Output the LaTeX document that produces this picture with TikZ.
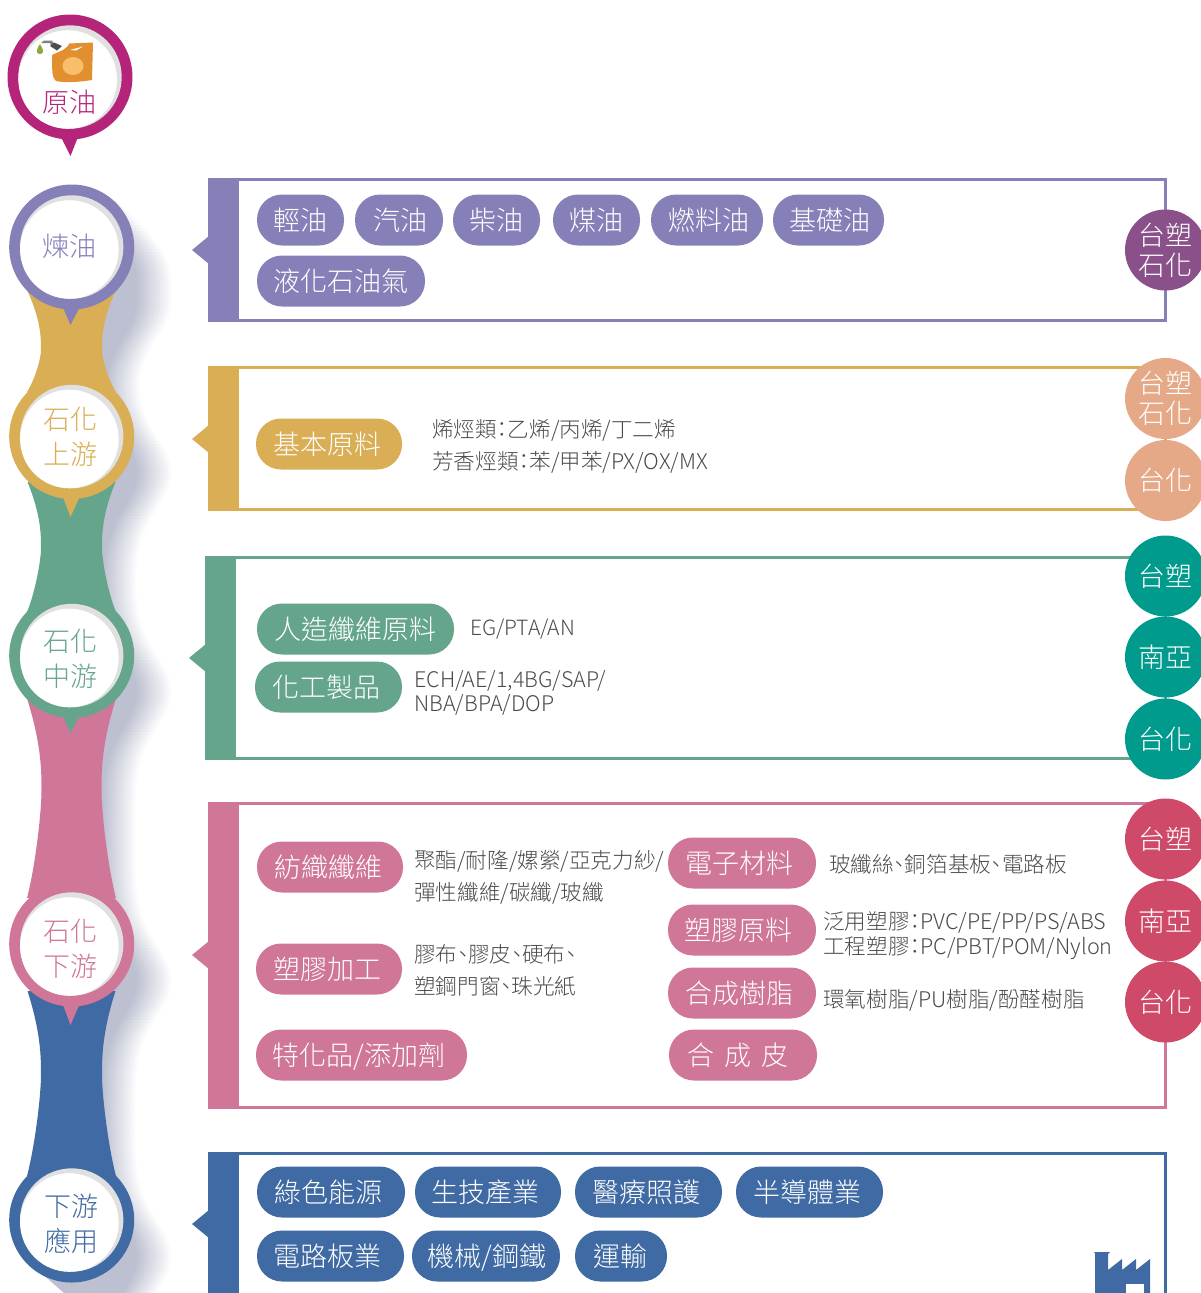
\documentclass[tikz,border=0pt]{standalone}
\usepackage{fontspec}
\setmainfont[RawFeature=+palt]{Noto Sans CJK TC Light}
\definecolor{crude}{HTML}{B4257A}
\definecolor{refine}{HTML}{8581B8}
\definecolor{upper}{HTML}{D9AE55}
\definecolor{middle}{HTML}{65A58C}
\definecolor{lower}{HTML}{CF7699}
\definecolor{appl}{HTML}{3F6AA3}
\definecolor{plum}{HTML}{8A5089}
\definecolor{peach}{HTML}{E5A987}
\definecolor{teal2}{HTML}{009B8C}
\definecolor{rose}{HTML}{CF4A68}
\definecolor{dropshade}{HTML}{BCC0D0}
\definecolor{crescent}{HTML}{E0E0E0}
\definecolor{bodytext}{HTML}{4A4A4A}
\definecolor{canbody}{HTML}{E2902F}
\definecolor{canoval}{HTML}{F9BE6B}
\definecolor{candrop}{HTML}{8DA83C}
\definecolor{cancap}{HTML}{4D4D4D}
\tikzset{
	pillbox/.style={rectangle,rounded corners=25,minimum height=51,inner sep=0,text height=27,text depth=6,
		text=white,font=\fontsize{27}{33}\selectfont},
	corpbox/.style={circle,minimum size=81,inner sep=0,text=white,align=center,
		font=\fontsize{27}{30}\selectfont},
	ringtext/.style={inner sep=0,align=center,font=\fontsize{27}{35}\selectfont},
	bodybox/.style={anchor=west,inner sep=0,align=left,text=bodytext}
}

\begin{document}
\begin{tikzpicture}[x=1pt,y=-1pt]
\clip (0,0) rectangle (1201,1293);
\def\ring#1#2#3#4{
	\fill[#1] (#2,#3) circle[radius=62.5];
	\fill[#1] (#2-9,#3+60) -- (70.5,#4) -- (#2+8,#3+60) -- cycle;
	\fill[crescent] (#2,#3) circle[radius=51.7];
	\fill[white] (#2-2.3,#3+2.5) circle[radius=49.3];
}
\def\neck#1#2#3#4#5{
	\fill[#1] (27.5,#2) .. controls ({71.5-#5},{#2+0.5*(#3-#2)}) and ({71.5-#5},{#3-0.2*(#3-#2)}) .. ({71.5-#5},#3)
		.. controls ({71.5-#5},{#3+0.2*(#4-#3)}) and ({71.5-#5-6},{#4-0.3*(#4-#3)}) .. (27,#4)
		-- (116,#4) .. controls ({71.5+#5+6},{#4-0.3*(#4-#3)}) and ({71.5+#5},{#3+0.2*(#4-#3)}) .. ({71.5+#5},#3)
		.. controls ({71.5+#5},{#3-0.2*(#3-#2)}) and ({71.5+#5},{#2+0.5*(#3-#2)}) .. (115.5,#2) -- cycle;
}
\def\panel#1#2#3#4#5{
	\draw[#1,line width=3] (#2+2,#3+1.5) rectangle (1165.5,#4-1.5);
	\fill[#1] (#2,#3) rectangle (#2+31,#4);
	\fill[#1] (#2+1,#5-14) -- (#2-16,#5) -- (#2+1,#5+14) -- cycle;
}
\def\pills#1#2{
	\foreach \nm/\xa/\xb/\cy/\dx/\txt in {#2}{
		\node[pillbox,fill=#1,minimum width={\xb-\xa}] (\nm) at ({(\xa+\xb)/2},\cy) {\hspace*{\dx pt}\txt};
	}
}
\def\corps#1#2{
	\foreach \nm/\cy/\txt in {#2}{
		\node[corpbox,fill=#1] (\nm) at (1165.5,\cy) {\txt};
	}
}
% shadow behind the chain
\foreach \y in {201,204,...,1293}{
	\pgfmathsetmacro\bump{exp(-((\y-300)/50)^2)+exp(-((\y-471)/50)^2)+exp(-((\y-690)/50)^2)
		+exp(-((\y-979)/50)^2)+exp(-((\y-1255)/50)^2)}
	\pgfmathsetmacro\xe{\y<300 ? 118+54*sin(min(90,(\y-201)*1.15)) : 136+36*\bump}
	\pgfmathsetmacro\xs{\y<300 ? max(100,\xe-36) : 102+34*\bump}
	\fill[dropshade] (95,\y) rectangle (\xs,\y+3.5);
	\shade[left color=dropshade,right color=white] (\xs,\y) rectangle (\xe,\y+3.5);
}
\fill[dropshade] (40,1272) -- (64,1293) -- (100,1293) -- (100,1265) -- cycle;
\neck{upper}{291}{350}{392}{30.5}
\neck{middle}{482}{548}{612}{30.5}
\neck{lower}{700}{790}{898}{30}
\neck{appl}{991}{1075}{1176}{30.5}

\ring{crude}{70}{77}{156}
\ring{refine}{71.7}{247}{325}
\ring{upper}{71.7}{436.5}{517}
\ring{middle}{71.7}{655.5}{733}
\ring{lower}{71.7}{944}{1025}
\ring{appl}{71.7}{1220}{1280}

% oil can
\fill[cancap!70] (41,43) -- (44,40.5) -- (52,40.5) -- (54,44) -- (51,45) -- (50,43) -- (44,43) -- cycle;
\fill[cancap] (50,46) -- (54,42.5) -- (62,46) -- (57,50.5) -- cycle;
\fill[candrop] (40,44) .. controls (42,48) and (44,50) .. (43,52)
	.. controls (41,56) and (36,54) .. (37,50) .. controls (37,48) and (39,46) .. (40,44) -- cycle;
\fill[canbody] (52,55) -- (63,50) -- (68,46) -- (69,43.5) -- (93,42.5) -- (92,80)
	.. controls (80,82) and (65,83) .. (56,81) .. controls (52,78) and (52,70) .. (52,55) -- cycle;
\fill[white] (70,50) -- (83,46.5) -- (76,50.5) -- cycle;
\fill[canoval] (73,66) ellipse[x radius=10.5,y radius=9];

\node[ringtext,text=crude] (crudelabel) at (69,102) {原油};
\node[ringtext,text=refine] (refinelabel) at (69,246) {煉油};
\node[ringtext,text=upper] (upperlabel) at (70,436.5) {石化\\上游};
\node[ringtext,text=middle] (middlelabel) at (70,658.5) {石化\\中游};
\node[ringtext,text=lower] (lowerlabel) at (70,948.5) {石化\\下游};
\node[ringtext,text=appl] (appllabel) at (71.5,1223.5) {下游\\應用};

\panel{refine}{208}{178}{322}{250}
\panel{upper}{208}{366}{511}{439}
\panel{middle}{205}{556}{760}{658}
\panel{lower}{208}{802}{1109}{955}
\panel{appl}{208}{1152}{1310}{1224}

\pills{refine}{p1/257/344/220/0/輕油,p2/355/443/220/3/汽油,p3/453/540/220/0/柴油,p4/553/640/220/0/煤油,
	p5/651/763/220/4/燃料油,p6/773/884/220/2/基礎油,p7/257/425/281/0/液化石油氣}
\pills{upper}{p8/256/402/444/-4/基本原料}
\pills{middle}{p9/257/454/629/0/人造纖維原料,p10/255/402/687/-4/化工製品}
\pills{lower}{p11/257/403/867/-4/紡織纖維,p12/256/402/969/-4/塑膠加工,p13/256/467/1055/-5/{特化品/添加劑},
	p14/668/816/863/-6/電子材料,p15/668/816/930/-7/塑膠原料,p16/668/816/993/-6/合成樹脂,
	p17/669/817/1055/-10/{合\hspace{10pt}成\hspace{10pt}皮}}
\pills{appl}{p18/257/405/1192/-6/綠色能源,p19/415/561/1192/-5/生技產業,p20/575/722/1192/-4/醫療照護,p21/736/883/1192/-4/半導體業,
	p22/257/404/1256/-6/電路板業,p23/412/560/1256/2/{機械/鋼鐵},p24/575/667/1256/-2/運輸}

\node[bodybox,font=\fontsize{21.6}{32}\selectfont] (t1) at (432,446) {烯烴類：乙烯/丙烯/丁二烯\\芳香烴類：苯/甲苯/PX/OX/MX};
\node[bodybox,font=\fontsize{21}{25}\selectfont] (t2) at (470,629) {EG/PTA/AN};
\node[bodybox,font=\fontsize{21.5}{24.5}\selectfont] (t3) at (414,693) {ECH/AE/1,4BG/SAP/\\NBA/BPA/DOP};
\node[bodybox,font=\fontsize{21.6}{32}\selectfont] (t4) at (414,877.5) {聚酯/耐隆/嫘縈/亞克力紗/\\彈性纖維/碳纖/玻纖};
\node[bodybox,font=\fontsize{21.6}{32}\selectfont] (t5) at (414,970.5) {膠布、膠皮、硬布、\\塑鋼門窗、珠光紙};
\node[bodybox,font=\fontsize{21.6}{25}\selectfont] (t6) at (829,864.5) {玻纖絲、銅箔基板、電路板};
\node[bodybox,font=\fontsize{21.6}{25}\selectfont] (t7) at (823,935.5) {泛用塑膠：PVC/PE/PP/PS/ABS\\工程塑膠：PC/PBT/POM/Nylon};
\node[bodybox,font=\fontsize{21.6}{25}\selectfont] (t8) at (823,1000) {環氧樹脂/PU樹脂/酚醛樹脂};

\corps{plum}{c1/250/台塑\\石化}
\corps{peach}{c2/398.5/台塑\\石化,c3/480.5/台化}
\corps{teal2}{c4/576/台塑,c5/657/南亞,c6/739/台化}
\corps{rose}{c7/839/台塑,c8/921/南亞,c9/1002/台化}

% factory
\fill[appl] (1095,1253) -- (1094,1252) -- (1110,1252) -- (1108,1254) -- (1108,1270) -- (1122,1259) -- (1122,1270)
	-- (1136,1259) -- (1136,1270) -- (1150,1259) -- (1150,1300) -- (1095,1300) -- cycle;
\fill[white] (1126,1284) rectangle (1144,1300);
\end{tikzpicture}
\end{document}
